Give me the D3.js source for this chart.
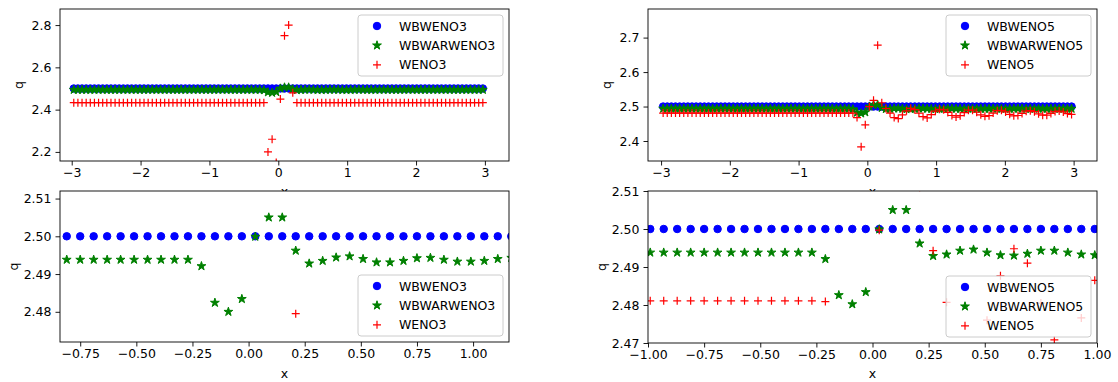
<!DOCTYPE html>
<html>
<head>
<meta charset="utf-8">
<script src="https://cdn.jsdelivr.net/npm/d3@7"></script>
<style>
  body { margin: 0; background: #fff; }
  svg { font-family: "DejaVu Sans", sans-serif; }
</style>
</head>
<body>
<svg id="fig" width="1118" height="382"></svg>
<script>
// cell centres of the 100-cell grid
const xGrid = [
  -2.97, -2.91, -2.85, -2.79, -2.73, -2.67, -2.61, -2.55, -2.49, -2.43,
  -2.37, -2.31, -2.25, -2.19, -2.13, -2.07, -2.01, -1.95, -1.89, -1.83,
  -1.77, -1.71, -1.65, -1.59, -1.53, -1.47, -1.41, -1.35, -1.29, -1.23,
  -1.17, -1.11, -1.05, -0.99, -0.93, -0.87, -0.81, -0.75, -0.69, -0.63,
  -0.57, -0.51, -0.45, -0.39, -0.33, -0.27, -0.21, -0.15, -0.09, -0.03,
   0.03,  0.09,  0.15,  0.21,  0.27,  0.33,  0.39,  0.45,  0.51,  0.57,
   0.63,  0.69,  0.75,  0.81,  0.87,  0.93,  0.99,  1.05,  1.11,  1.17,
   1.23,  1.29,  1.35,  1.41,  1.47,  1.53,  1.59,  1.65,  1.71,  1.77,
   1.83,  1.89,  1.95,  2.01,  2.07,  2.13,  2.19,  2.25,  2.31,  2.37,
   2.43,  2.49,  2.55,  2.61,  2.67,  2.73,  2.79,  2.85,  2.91,  2.97
];

const wbweno = [
  2.5, 2.5, 2.5, 2.5, 2.5, 2.5, 2.5, 2.5, 2.5, 2.5,
  2.5, 2.5, 2.5, 2.5, 2.5, 2.5, 2.5, 2.5, 2.5, 2.5,
  2.5, 2.5, 2.5, 2.5, 2.5, 2.5, 2.5, 2.5, 2.5, 2.5,
  2.5, 2.5, 2.5, 2.5, 2.5, 2.5, 2.5, 2.5, 2.5, 2.5,
  2.5, 2.5, 2.5, 2.5, 2.5, 2.5, 2.5, 2.5, 2.5, 2.5,
  2.5, 2.5, 2.5, 2.5, 2.5, 2.5, 2.5, 2.5, 2.5, 2.5,
  2.5, 2.5, 2.5, 2.5, 2.5, 2.5, 2.5, 2.5, 2.5, 2.5,
  2.5, 2.5, 2.5, 2.5, 2.5, 2.5, 2.5, 2.5, 2.5, 2.5,
  2.5, 2.5, 2.5, 2.5, 2.5, 2.5, 2.5, 2.5, 2.5, 2.5,
  2.5, 2.5, 2.5, 2.5, 2.5, 2.5, 2.5, 2.5, 2.5, 2.5
];

const wbarweno3 = [
  2.4938, 2.4938, 2.4938, 2.4938, 2.4938, 2.4938, 2.4938, 2.4938, 2.4938, 2.4938,
  2.4938, 2.4938, 2.4938, 2.4938, 2.4938, 2.4938, 2.4938, 2.4938, 2.4938, 2.4938,
  2.4938, 2.4938, 2.4938, 2.4938, 2.4938, 2.4938, 2.4938, 2.4938, 2.4938, 2.4938,
  2.4938, 2.4938, 2.4938, 2.4938, 2.4938, 2.4938, 2.4938, 2.4938, 2.4938, 2.4938,
  2.4938, 2.4938, 2.4938, 2.4938, 2.4938, 2.4938, 2.4921, 2.4824, 2.4800, 2.4834,
  2.4999, 2.5050, 2.5050, 2.4962, 2.4928, 2.4935, 2.4944, 2.4947, 2.4940, 2.4931,
  2.4931, 2.4935, 2.4942, 2.4943, 2.4938, 2.4933, 2.4933, 2.4935, 2.4940, 2.4943,
  2.4940, 2.4937, 2.4935, 2.4936, 2.4939, 2.4940, 2.4938, 2.4936, 2.4936, 2.4938,
  2.4940, 2.4939, 2.4937, 2.4936, 2.4937, 2.4939, 2.4939, 2.4938, 2.4937, 2.4937,
  2.4938, 2.4939, 2.4938, 2.4937, 2.4937, 2.4938, 2.4939, 2.4938, 2.4938, 2.4938
];

const weno3 = [
  2.433, 2.433, 2.433, 2.433, 2.433, 2.433, 2.433, 2.433, 2.433, 2.433,
  2.433, 2.433, 2.433, 2.433, 2.433, 2.433, 2.433, 2.433, 2.433, 2.433,
  2.433, 2.433, 2.433, 2.433, 2.433, 2.433, 2.433, 2.433, 2.433, 2.433,
  2.433, 2.433, 2.433, 2.433, 2.433, 2.433, 2.433, 2.433, 2.433, 2.433,
  2.433, 2.433, 2.433, 2.433, 2.433, 2.433, 2.433, 2.200, 2.260, 2.150,
  2.450, 2.750, 2.800, 2.4795, 2.433, 2.433, 2.433, 2.433, 2.433, 2.433,
  2.433, 2.433, 2.433, 2.433, 2.433, 2.433, 2.433, 2.433, 2.433, 2.433,
  2.433, 2.433, 2.433, 2.433, 2.433, 2.433, 2.433, 2.433, 2.433, 2.433,
  2.433, 2.433, 2.433, 2.433, 2.433, 2.433, 2.433, 2.433, 2.433, 2.433,
  2.433, 2.433, 2.433, 2.433, 2.433, 2.433, 2.433, 2.433, 2.433, 2.433
];

const wbarweno5 = [
  2.4938, 2.4938, 2.4938, 2.4938, 2.4938, 2.4938, 2.4938, 2.4938, 2.4938, 2.4938,
  2.4938, 2.4938, 2.4938, 2.4938, 2.4938, 2.4938, 2.4938, 2.4938, 2.4938, 2.4938,
  2.4938, 2.4938, 2.4938, 2.4938, 2.4938, 2.4938, 2.4938, 2.4938, 2.4938, 2.4938,
  2.4938, 2.4938, 2.4938, 2.4938, 2.4938, 2.4938, 2.4938, 2.4938, 2.4938, 2.4938,
  2.4938, 2.4938, 2.4938, 2.4938, 2.4938, 2.4938, 2.4921, 2.4826, 2.4802, 2.4834,
  2.4999, 2.5050, 2.5050, 2.4962, 2.4929, 2.4933, 2.4943, 2.4946, 2.4938, 2.4931,
  2.4930, 2.4935, 2.4943, 2.4943, 2.4938, 2.4933, 2.4931, 2.4934, 2.4940, 2.4943,
  2.4941, 2.4937, 2.4934, 2.4935, 2.4939, 2.4941, 2.4939, 2.4936, 2.4935, 2.4937,
  2.4940, 2.4940, 2.4937, 2.4935, 2.4936, 2.4939, 2.4940, 2.4938, 2.4936, 2.4936,
  2.4938, 2.4940, 2.4939, 2.4937, 2.4936, 2.4937, 2.4939, 2.4939, 2.4938, 2.4937
];

const weno5 = [
  2.4811, 2.4811, 2.4811, 2.4811, 2.4811, 2.4811, 2.4811, 2.4811, 2.4811, 2.4811,
  2.4811, 2.4811, 2.4811, 2.4811, 2.4811, 2.4811, 2.4811, 2.4811, 2.4811, 2.4811,
  2.4811, 2.4811, 2.4811, 2.4811, 2.4811, 2.4811, 2.4811, 2.4811, 2.4811, 2.4811,
  2.4811, 2.4811, 2.4811, 2.4811, 2.4811, 2.4811, 2.4811, 2.4811, 2.4811, 2.4811,
  2.4811, 2.4811, 2.4811, 2.4811, 2.4811, 2.4811, 2.4809, 2.4680, 2.3830, 2.4470,
  2.4997, 2.5180, 2.6780, 2.5110, 2.4943, 2.4807, 2.4680, 2.4650, 2.4760, 2.4877,
  2.4948, 2.4910, 2.4805, 2.4708, 2.4670, 2.4766, 2.4865, 2.4920, 2.4905, 2.4830,
  2.4740, 2.4695, 2.4735, 2.4825, 2.4895, 2.4895, 2.4835, 2.4760, 2.4715, 2.4735,
  2.4810, 2.4880, 2.4890, 2.4845, 2.4775, 2.4730, 2.4740, 2.4800, 2.4865, 2.4880,
  2.4850, 2.4790, 2.4750, 2.4750, 2.4800, 2.4855, 2.4870, 2.4845, 2.4795, 2.4770
];

const labels3 = ["WBWENO3", "WBWARWENO3", "WENO3"];
const labels5 = ["WBWENO5", "WBWARWENO5", "WENO5"];

const topXTicks = [-3, -2, -1, 0, 1, 2, 3];
const zoomXTicksL = [-0.75, -0.50, -0.25, 0.00, 0.25, 0.50, 0.75, 1.00];
const zoomXTicksR = [-1.00, -0.75, -0.50, -0.25, 0.00, 0.25, 0.50, 0.75, 1.00];
const yTicksTL = [2.2, 2.4, 2.6, 2.8];
const yTicksTR = [2.4, 2.5, 2.6, 2.7];
const yTicksBL = [2.48, 2.49, 2.50, 2.51];
const yTicksBR = [2.47, 2.48, 2.49, 2.50, 2.51];

const colors = ["#0000ff", "#008000", "#ff0000"];
const minus = s => s.replace("-", "\u2212");
const fs = 12.5;

const panels = [
  { id: "tl", left: 60, top: 9, w: 449, h: 152, xd: [-3.17, 3.35], yd: [2.157, 2.876],
    xt: topXTicks, xf: "d", yt: yTicksTL, yf: ".1f", series: [wbweno, wbarweno3, weno3],
    labels: labels3, legendTop: true, qx: 18, xlabY: 196 },
  { id: "tr", left: 648, top: 9, w: 449, h: 152, xd: [-3.19, 3.34], yd: [2.342, 2.783],
    xt: topXTicks, xf: "d", yt: yTicksTR, yf: ".1f", series: [wbweno, wbarweno5, weno5],
    labels: labels5, legendTop: true, qx: 606, xlabY: 196 },
  { id: "bl", left: 60, top: 191, w: 449, h: 151, xd: [-0.84, 1.16], yd: [2.472, 2.512],
    xt: zoomXTicksL, xf: ".2f", yt: yTicksBL, yf: ".2f", series: [wbweno, wbarweno3, weno3],
    labels: labels3, legendTop: false, qx: 13, xlabY: 378 },
  { id: "br", left: 648, top: 191, w: 449, h: 152, xd: [-1, 1], yd: [2.47, 2.51],
    xt: zoomXTicksR, xf: ".2f", yt: yTicksBR, yf: ".2f", series: [wbweno, wbarweno5, weno5],
    labels: labels5, legendTop: false, qx: 601, xlabY: 378 }
];

const svg = d3.select("#fig");
const defs = svg.append("defs");

const star = d3.symbol().type(d3.symbolStar).size(24);
const circle = d3.symbol().type(d3.symbolCircle).size(44);

function drawMarker(g, k, x, y) {
  if (k === 0) {
    g.append("path").attr("d", circle()).attr("transform", `translate(${x},${y})`)
      .attr("fill", colors[0]).attr("stroke", colors[0]).attr("stroke-width", 1);
  } else if (k === 1) {
    g.append("path").attr("d", star()).attr("transform", `translate(${x},${y})`)
      .attr("fill", colors[1]).attr("stroke", colors[1]).attr("stroke-width", 1)
      .attr("stroke-linejoin", "miter");
  } else {
    g.append("path").attr("d", "M-4,0H4M0,-4V4")
      .attr("transform", `translate(${x},${y})`)
      .attr("stroke", colors[2]).attr("stroke-width", 1.2).attr("fill", "none");
  }
}

panels.forEach(p => {
  const x = d3.scaleLinear().domain(p.xd).range([0, p.w]);
  const y = d3.scaleLinear().domain(p.yd).range([p.h, 0]);

  const g = svg.append("g").attr("transform", `translate(${p.left},${p.top})`);
  g.append("rect").attr("width", p.w).attr("height", p.h).attr("fill", "#fff");

  defs.append("clipPath").attr("id", "clip-" + p.id)
    .append("rect").attr("width", p.w).attr("height", p.h);

  const plot = g.append("g").attr("clip-path", `url(#clip-${p.id})`);
  p.series.forEach((vals, k) => {
    const sg = plot.append("g");
    vals.forEach((v, i) => drawMarker(sg, k, x(xGrid[i]), y(v)));
  });

  // axes
  const xAxis = g.append("g").attr("transform", `translate(0,${p.h})`)
    .call(d3.axisBottom(x).tickValues(p.xt).tickSize(4.5).tickPadding(3)
      .tickFormat(d => minus(d3.format(p.xf)(d))));
  const yAxis = g.append("g")
    .call(d3.axisLeft(y).tickValues(p.yt).tickSize(4.5).tickPadding(4)
      .tickFormat(d => d3.format(p.yf)(d)));
  [xAxis, yAxis].forEach(a => {
    a.select(".domain").remove();
    a.selectAll("text").attr("font-size", fs).attr("fill", "#000")
      .attr("font-family", "DejaVu Sans");
    a.selectAll("line").attr("stroke", "#000").attr("stroke-width", 0.9);
  });

  g.append("rect").attr("width", p.w).attr("height", p.h)
    .attr("fill", "none").attr("stroke", "#000").attr("stroke-width", 0.9);

  // legend
  const lw = 145, lh = 61;
  const lx = p.w - 6 - lw;
  const ly = p.legendTop ? 6 : p.h - 6 - lh;
  const lg = g.append("g").attr("transform", `translate(${lx},${ly})`);
  lg.append("rect").attr("width", lw).attr("height", lh).attr("rx", 3)
    .attr("fill", "#fff").attr("fill-opacity", 0.8)
    .attr("stroke", "#cccccc").attr("stroke-width", 1);
  p.labels.forEach((t, k) => {
    const ry = 11 + k * 19.4;
    drawMarker(lg, k, 19, ry);
    lg.append("text").attr("x", 41).attr("y", ry).attr("dy", "0.36em")
      .attr("font-size", fs).text(t);
  });

  // axis labels
  svg.append("text")
    .attr("transform", `translate(${p.qx},${p.top + p.h / 2}) rotate(-90)`)
    .attr("text-anchor", "middle").attr("dy", "0.36em")
    .attr("font-size", fs).text("q");
  svg.append("text").attr("x", p.left + p.w / 2).attr("y", p.xlabY)
    .attr("text-anchor", "middle").attr("font-size", fs).text("x");
});

// bottom axes sit on top of the upper x labels, as in the original layout
svg.selectAll("g").filter(function () { return this.parentNode === svg.node(); })
  .each(function (d, i) { if (i >= 2) svg.node().appendChild(this); });
</script>
</body>
</html>
